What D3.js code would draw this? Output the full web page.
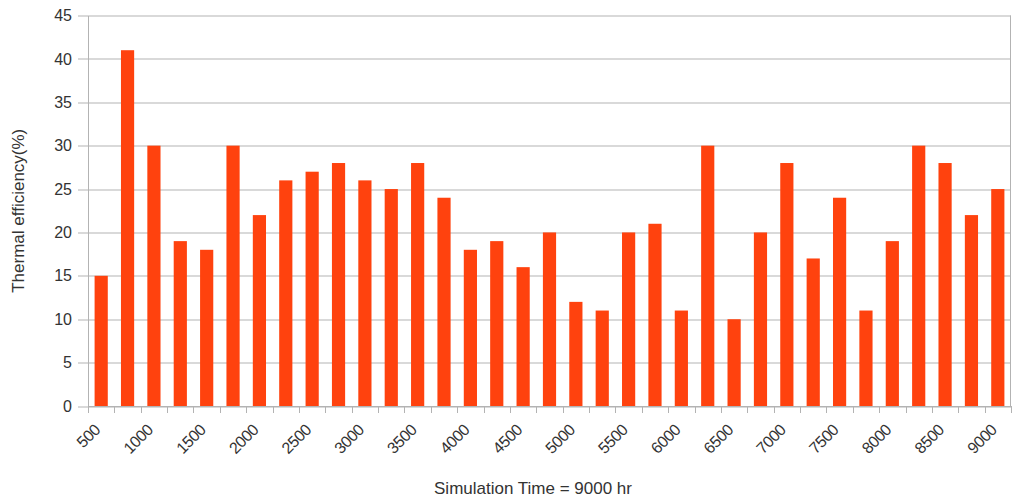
<!DOCTYPE html>
<html>
<head>
<meta charset="utf-8">
<script src="https://cdn.jsdelivr.net/npm/d3@7"></script>
<style>
  body { margin: 0; background: #fff; }
  svg { display: block; font-family: "Liberation Sans", Arial, sans-serif; }
</style>
</head>
<body>
<div id="chart"></div>
<script>
// simulation time steps (hr), every 250
const times = [500, 750, 1000, 1250, 1500, 1750, 2000, 2250, 2500, 2750, 3000, 3250,
  3500, 3750, 4000, 4250, 4500, 4750, 5000, 5250, 5500, 5750, 6000, 6250,
  6500, 6750, 7000, 7250, 7500, 7750, 8000, 8250, 8500, 8750, 9000];

// thermal efficiency (%)
const efficiency = [15, 41, 30, 19, 18, 30, 22, 26, 27, 28, 26, 25,
  28, 24, 18, 19, 16, 20, 12, 11, 20, 21, 11, 30,
  10, 20, 28, 17, 24, 11, 19, 30, 28, 22, 25];

const yTicks = [0, 5, 10, 15, 20, 25, 30, 35, 40, 45];

const W = 1012, H = 498;
const margin = { top: 15.5, right: 1, bottom: 92, left: 88 };
const width = W - margin.left - margin.right;
const height = H - margin.top - margin.bottom;

const svg = d3.select('#chart').append('svg')
  .attr('width', W)
  .attr('height', H);

const g = svg.append('g')
  .attr('transform', `translate(${margin.left},${margin.top})`);

const x = d3.scaleBand().domain(times).range([0, width]).paddingInner(0).paddingOuter(0);
const y = d3.scaleLinear().domain([0, 45]).range([height, 0]);

// gridlines
g.selectAll('.grid')
  .data(yTicks)
  .enter().append('line')
  .attr('x1', -10).attr('x2', width)
  .attr('y1', d => Math.round(y(d)) + 0.5)
  .attr('y2', d => Math.round(y(d)) + 0.5)
  .attr('stroke', '#b3b3b3')
  .attr('stroke-width', 1);

// right border
g.append('line')
  .attr('x1', width - 0.5).attr('x2', width - 0.5)
  .attr('y1', y(45)).attr('y2', height)
  .attr('stroke', '#b3b3b3');

// bars
const barW = x.bandwidth() * 0.5;
g.selectAll('.bar')
  .data(efficiency)
  .enter().append('rect')
  .attr('class', 'bar')
  .attr('x', (d, i) => x(times[i]) + (x.bandwidth() - barW) / 2)
  .attr('y', d => y(d))
  .attr('width', barW)
  .attr('height', d => height - y(d))
  .attr('fill', '#ff420e');

// y axis
const yAxis = g.append('g')
  .call(d3.axisLeft(y).tickValues(yTicks).tickSize(0).tickPadding(16));
yAxis.select('.domain').attr('stroke', '#b3b3b3');
yAxis.selectAll('text')
  .attr('font-size', 16)
  .attr('fill', '#333');

// x axis: ticks on band boundaries
const xAxisG = g.append('g')
  .attr('transform', `translate(0,${height})`);

xAxisG.append('line')
  .attr('x1', 0).attr('x2', width)
  .attr('y1', 0.5).attr('y2', 0.5)
  .attr('stroke', '#b3b3b3');

const bounds = times.map(t => x(t)).concat([width]);
xAxisG.selectAll('.tick')
  .data(bounds)
  .enter().append('line')
  .attr('x1', d => Math.round(d) + 0.5)
  .attr('x2', d => Math.round(d) + 0.5)
  .attr('y1', 0).attr('y2', 7)
  .attr('stroke', '#b3b3b3');

xAxisG.selectAll('.xlab')
  .data(times.filter((t, i) => i % 2 === 0))
  .enter().append('text')
  .attr('transform', d => `translate(${x(d) + x.bandwidth() / 2 - 4},${21}) rotate(-45)`)
  .attr('text-anchor', 'end')
  .attr('dy', '0.35em')
  .attr('font-size', 16)
  .attr('letter-spacing', -0.5)
  .attr('fill', '#333')
  .text(d => d);

// axis titles
svg.append('text')
  .attr('x', 533)
  .attr('y', 494)
  .attr('text-anchor', 'middle')
  .attr('font-size', 17)
  .attr('fill', '#333')
  .text('Simulation Time = 9000 hr');

svg.append('text')
  .attr('transform', `translate(24,${margin.top + height / 2}) rotate(-90)`)
  .attr('text-anchor', 'middle')
  .attr('font-size', 17)
  .attr('fill', '#333')
  .text('Thermal efficiency(%)');
</script>
</body>
</html>
